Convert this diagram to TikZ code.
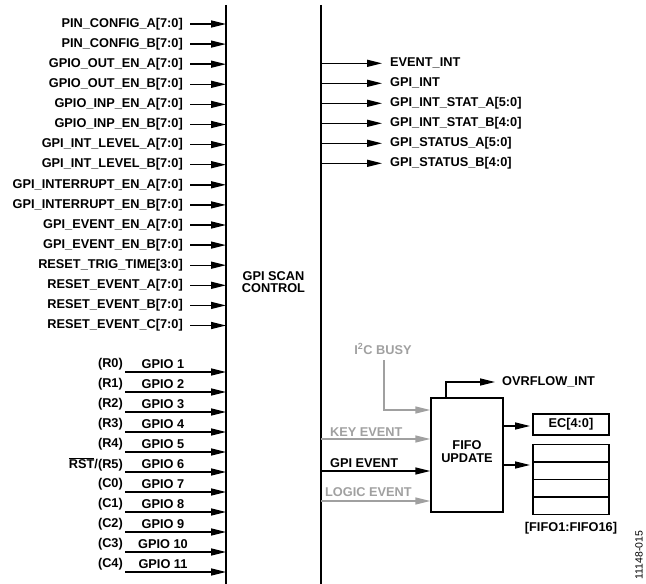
\documentclass[tikz,border=0pt]{standalone}
\usepackage{fontspec}
\setmainfont{Liberation Sans}
\usetikzlibrary{arrows.meta}
\definecolor{lgray}{RGB}{160,160,160}
\begin{document}
\begin{tikzpicture}[x=1bp,y=-1bp,
  lbl/.style={font=\fontsize{12.8}{14}\selectfont\bfseries, inner sep=0pt},
  sml/.style={font=\fontsize{10.5}{12}\selectfont, inner sep=0pt},
  arr/.style={line width=1.4bp, -{Triangle[length=15bp,width=7bp]}},
  garr/.style={arr, draw=lgray},
  wall/.style={line width=1.6bp},
  boxst/.style={draw, line width=1.4bp, inner sep=0pt}]
\useasboundingbox (0,0) rectangle (646,584);
% main block walls
\coordinate (bl) at (226,5);
\coordinate (bl2) at (226,584);
\coordinate (br) at (321,5);
\coordinate (br2) at (321,584);
\draw[wall] (bl) -- (bl2);
\draw[wall] (br) -- (br2);
\node[lbl, align=center] (gsc) at (273.5,282) {GPI SCAN\\[-2pt]CONTROL};
% left inputs
\foreach \t [count=\i] in {PIN\_CONFIG\_A[7:0],PIN\_CONFIG\_B[7:0],GPIO\_OUT\_EN\_A[7:0],GPIO\_OUT\_EN\_B[7:0],GPIO\_INP\_EN\_A[7:0],GPIO\_INP\_EN\_B[7:0],GPI\_INT\_LEVEL\_A[7:0],GPI\_INT\_LEVEL\_B[7:0],GPI\_INTERRUPT\_EN\_A[7:0],GPI\_INTERRUPT\_EN\_B[7:0],GPI\_EVENT\_EN\_A[7:0],GPI\_EVENT\_EN\_B[7:0],RESET\_TRIG\_TIME[3:0],RESET\_EVENT\_A[7:0],RESET\_EVENT\_B[7:0],RESET\_EVENT\_C[7:0]}{
  \node[lbl, anchor=east] (in\i) at (183,{24+(\i-1)*20.1}) {\t};
  \coordinate (ins\i) at (190,{24+(\i-1)*20.1});
  \draw[arr] (ins\i) -- (ins\i -| bl);
}
% GPIO inputs
\foreach \p/\g [count=\i] in {(R0)/GPIO 1,(R1)/GPIO 2,(R2)/GPIO 3,(R3)/GPIO 4,(R4)/GPIO 5,{$\overline{\hbox{RST}}$/(R5)}/GPIO 6,(C0)/GPIO 7,(C1)/GPIO 8,(C2)/GPIO 9,(C3)/GPIO 10,(C4)/GPIO 11}{
  \coordinate (gs\i) at (125,{372+(\i-1)*20});
  \node[lbl, anchor=east] (gp\i) at (123,{364+(\i-1)*20}) {\p};
  \node[lbl, anchor=south] (gn\i) at (163,{369+(\i-1)*20}) {\g};
  \draw[arr] (gs\i) -- (gs\i -| bl);
}
% right outputs
\foreach \t [count=\i] in {EVENT\_INT,GPI\_INT,GPI\_INT\_STAT\_A[5:0],GPI\_INT\_STAT\_B[4:0],GPI\_STATUS\_A[5:0],GPI\_STATUS\_B[4:0]}{
  \node[lbl, anchor=west] (out\i) at (390,{63.3+(\i-1)*20}) {\t};
  \coordinate (os\i) at (321,{63.3+(\i-1)*20});
  \coordinate (oe\i) at (382,{63.3+(\i-1)*20});
  \draw[arr] (os\i) -- (oe\i);
}
% FIFO update block
\node[boxst, minimum width=72bp, minimum height=114bp] (fifo) at (467,455) {};
\node[lbl, align=center] (fifot) at (467,452) {FIFO\\[-1pt]UPDATE};
% overflow
\node[lbl, anchor=west] (ovf) at (502,382) {OVRFLOW\_INT};
\coordinate (ovfe) at (495,382);
\draw[arr] (fifo.north -| 446,0) -- (446,382) -- (ovfe);
% I2C busy
\node[lbl, text=lgray] (i2c) at (383,349) {I\textsuperscript{2}C BUSY};
\draw[garr] (384,360) -- (384,410) -- (fifo.west |- 0,410);
% event inputs
\node[lbl, text=lgray, anchor=south west] (kev) at (330,437) {KEY EVENT};
\coordinate (kevs) at (321,439);
\draw[garr] (kevs) -- (fifo.west |- kevs);
\node[lbl, anchor=south west] (gev) at (330,468) {GPI EVENT};
\coordinate (gevs) at (321,471);
\draw[arr] (gevs) -- (fifo.west |- gevs);
\node[lbl, text=lgray, anchor=south west] (lev) at (325,497) {LOGIC EVENT};
\coordinate (levs) at (321,501);
\draw[garr] (levs) -- (fifo.west |- levs);
% EC and FIFO stack
\node[boxst, minimum width=76bp, minimum height=21bp] (ec) at (571,424.5) {};
\node[lbl] (ect) at (571,424.5) {EC[4:0]};
\coordinate (ece) at (530,426);
\draw[arr] (fifo.east |- ece) -- (ece);
\node[boxst, minimum width=76bp, minimum height=70bp] (stk) at (571,479.5) {};
\draw[line width=1.4bp] (stk.west |- 0,462) -- (stk.east |- 0,462);
\draw[line width=1.4bp] (stk.west |- 0,479.5) -- (stk.east |- 0,479.5);
\draw[line width=1.4bp] (stk.west |- 0,497) -- (stk.east |- 0,497);
\coordinate (stke) at (530,465);
\draw[arr] (fifo.east |- stke) -- (stke);
\node[lbl] (stkl) at (571,528) {[FIFO1:FIFO16]};
\node[sml, rotate=90] (fig) at (639,555) {11148-015};
\end{tikzpicture}
\end{document}
